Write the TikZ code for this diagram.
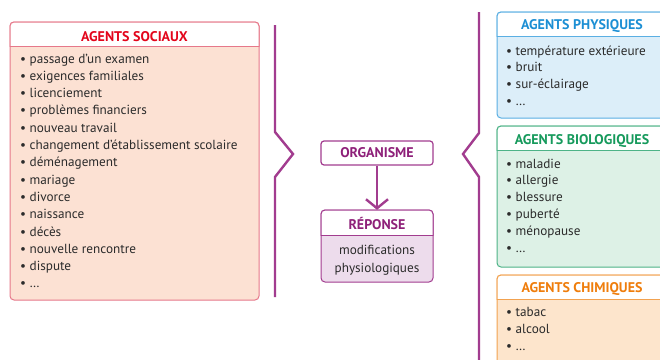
\documentclass[tikz,border=0pt]{standalone}
\usepackage{fontspec}
\setmainfont{PT Sans}
\usetikzlibrary{arrows.meta}
\definecolor{socB}{HTML}{E6788A}
\definecolor{socF}{HTML}{FCE1D3}
\definecolor{socT}{HTML}{E3061C}
\definecolor{phyB}{HTML}{5AAFE3}
\definecolor{phyF}{HTML}{DCEEF9}
\definecolor{phyT}{HTML}{1C8FD4}
\definecolor{bioB}{HTML}{4DB387}
\definecolor{bioF}{HTML}{DDF1E6}
\definecolor{bioT}{HTML}{169A5C}
\definecolor{chiB}{HTML}{F2A250}
\definecolor{chiF}{HTML}{FDE5CC}
\definecolor{chiT}{HTML}{EF7D0B}
\definecolor{brk}{HTML}{A23C8F}
\definecolor{orgT}{HTML}{8E2079}
\definecolor{repF}{HTML}{EDDCEC}
\definecolor{txt}{HTML}{2B2B2B}
\newcommand{\agentbox}[7]{%
  \draw[boxbody, draw=#6, fill=#7] (#1,#2) rectangle (#3,#4);
  \begin{scope}
    \clip (#1-2,#2-2) rectangle (#3+2,#5);
    \draw[boxbody, draw=#6, fill=white] (#1,#2) rectangle (#3,#4);
  \end{scope}
  \draw[line width=1pt, draw=#6] (#1,#5) -- (#3,#5);
}
\begin{document}
\begin{tikzpicture}[x=1pt,y=-1pt,
  itm/.style={anchor=base west, inner sep=0pt, font=\fontsize{13.2}{15}\selectfont, text=txt},
  ttl/.style={anchor=base, inner sep=0pt, font=\bfseries\fontsize{14}{16}\selectfont},
  brkline/.style={draw=brk, line width=2.4pt, line join=miter},
  boxbody/.style={line width=1pt, rounded corners=4pt},
]
\clip (0,0) rectangle (660,359);
\fill[white] (0,0) rectangle (660,359);

% AGENTS SOCIAUX
\agentbox{10}{22}{259}{300}{46}{socB}{socF}
\node[ttl, text=socT] (tsoc) at (134.5,41) {AGENTS SOCIAUX};
\foreach \t [count=\i from 0] in {passage d’un examen, exigences familiales, licenciement,
  problèmes financiers, nouveau travail, changement d’établissement scolaire,
  déménagement, mariage, divorce, naissance, décès, nouvelle rencontre, dispute, \dots}
  \node[itm] (s\i) at (20,63+17.3*\i) {• \t};

% AGENTS PHYSIQUES
\agentbox{497}{12}{667}{118}{36}{phyB}{phyF}
\node[ttl, text=phyT] (tphy) at (582,29) {AGENTS PHYSIQUES};
\foreach \t [count=\i from 0] in {température extérieure, bruit, sur-éclairage, \dots}
  \node[itm] (p\i) at (506,55+16.8*\i) {• \t};

% AGENTS BIOLOGIQUES
\agentbox{497}{126}{667}{267}{150}{bioB}{bioF}
\node[ttl, text=bioT] (tbio) at (582,144) {AGENTS BIOLOGIQUES};
\foreach \t [count=\i from 0] in {maladie, allergie, blessure, puberté, ménopause, \dots}
  \node[itm] (b\i) at (506,168+16.8*\i) {• \t};

% AGENTS CHIMIQUES
\agentbox{497}{275}{667}{372}{299}{chiB}{chiF}
\node[ttl, text=chiT] (tchi) at (582,292) {AGENTS CHIMIQUES};
\foreach \t [count=\i from 0] in {tabac, alcool, \dots}
  \node[itm] (c\i) at (506,316+17*\i) {• \t};

% brackets
\draw[brkline] (275,25) -- (275,132) -- (293,154) -- (275,177) -- (275,297);
\draw[brkline] (479,12) -- (479,133) -- (463,154) -- (479,177) -- (479,365);

% ORGANISME
\node[draw=brk, line width=1.2pt, rounded corners=3pt, fill=white,
      minimum width=112pt, minimum height=24pt, inner sep=0pt,
      font=\bfseries\fontsize{14}{16}\selectfont, text=orgT] (organisme) at (377,153) {ORGANISME};

% REPONSE
\agentbox{321}{210}{433}{282}{235}{brk}{repF}
\node[inner sep=0pt, minimum width=112pt, minimum height=72pt] (reponse) at (377,246) {};
\node[ttl, text=orgT] (trep) at (377,229) {RÉPONSE};
\node[anchor=base, inner sep=0pt, font=\fontsize{13.2}{15}\selectfont, text=txt] (rep1) at (377,254) {modifications};
\node[anchor=base, inner sep=0pt, font=\fontsize{13.2}{15}\selectfont, text=txt] (rep2) at (377,272) {physiologiques};

\draw[draw=brk, line width=2.4pt, -{Straight Barb[length=9pt,width=22pt]}] (organisme) -- (reponse);
\end{tikzpicture}
\end{document}
